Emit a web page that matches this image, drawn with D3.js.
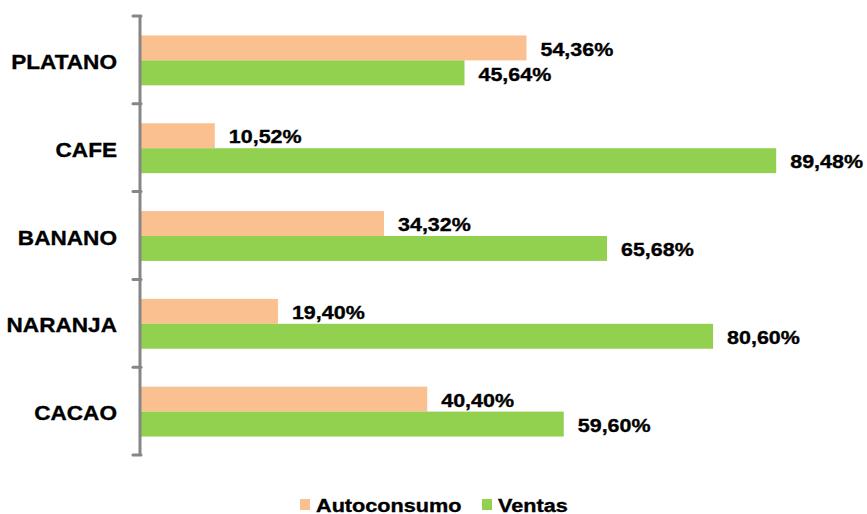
<!DOCTYPE html>
<html>
<head>
<meta charset="utf-8">
<script src="https://cdn.jsdelivr.net/npm/d3@7"></script>
<style>
  body { margin: 0; background: #fff; }
  text { font-family: "Liberation Sans", Arial, sans-serif; font-weight: bold; fill: #000; stroke: #000; stroke-width: 0.35px; }
</style>
</head>
<body>
<div id="wrapper"></div>
<script>
const categories = ["PLATANO", "CAFE", "BANANO", "NARANJA", "CACAO"]
const seriesNames = ["Autoconsumo", "Ventas"]
const autoconsumo = [54.36, 10.52, 34.32, 19.40, 40.40]
const ventas = [45.64, 89.48, 65.68, 80.60, 59.60]
const colors = ["#FAC090", "#92D050"]

const fmt = v => v.toFixed(2).replace(".", ",") + "%"

const dimensions = { width: 867, height: 514 }

const data = categories.map((c, i) => ({
  category: c,
  values: [
    { series: seriesNames[0], value: autoconsumo[i] },
    { series: seriesNames[1], value: ventas[i] },
  ]
}))

const svg = d3.select("#wrapper").append("svg")
  .attr("width", dimensions.width)
  .attr("height", dimensions.height)

// scales
const x = d3.scaleLinear().domain([0, 100]).range([140, 851])
const y = d3.scaleBand().domain(categories).range([16, 455]).padding(0)
const ySub = d3.scaleBand().domain(seriesNames).range([0, y.bandwidth()])
  .paddingInner(0).paddingOuter(0.76)
const color = d3.scaleOrdinal().domain(seriesNames).range(colors)

// bars
const groups = svg.append("g").selectAll("g")
  .data(data)
  .join("g")
    .attr("transform", d => `translate(0,${y(d.category) + 0.5})`)

groups.selectAll("rect")
  .data(d => d.values)
  .join("rect")
    .attr("x", x(0))
    .attr("y", d => ySub(d.series))
    .attr("width", d => x(d.value) - x(0))
    .attr("height", ySub.bandwidth())
    .attr("fill", d => color(d.series))

// value labels
groups.selectAll("text")
  .data(d => d.values)
  .join("text")
    .attr("transform", d => `translate(${x(d.value) + 14},${ySub(d.series) + ySub.bandwidth() / 2 + 1}) scale(1.13,1)`)
    .attr("dy", "0.35em")
    .style("font-size", "19px")
    .text(d => fmt(d.value))

// axis: vertical line with ticks at band boundaries
const axis = svg.append("g")
const tickYs = categories.map(c => y(c)).concat([y.range()[1]])
axis.append("line")
  .attr("x1", 140).attr("x2", 140)
  .attr("y1", y.range()[0]).attr("y2", y.range()[1])
  .attr("stroke", "#868686").attr("stroke-width", 3)
axis.selectAll(".tick")
  .data(tickYs)
  .join("line")
    .attr("class", "tick")
    .attr("x1", 133).attr("x2", 141)
    .attr("y1", d => d).attr("y2", d => d)
    .attr("stroke", "#868686").attr("stroke-width", 3)
    .attr("stroke-linecap", "round")

// category labels
svg.append("g").selectAll("text")
  .data(categories)
  .join("text")
    .attr("transform", d => `translate(117,${y(d) + y.bandwidth() / 2 + 2}) scale(1.13,1)`)
    .attr("text-anchor", "end")
    .attr("dy", "0.35em")
    .style("font-size", "20px")
    .text(d => d)

// legend
const legendX = [300, 482]
const legend = svg.append("g").selectAll("g")
  .data(seriesNames)
  .join("g")
    .attr("transform", (d, i) => `translate(${legendX[i]},505)`)
legend.append("rect")
  .attr("x", 0).attr("y", -6)
  .attr("width", 10).attr("height", 11)
  .attr("fill", d => color(d))
legend.append("text")
  .attr("transform", "translate(16,0) scale(1.14,1)")
  .attr("dy", "0.35em")
  .style("font-size", "19px")
  .text(d => d)
</script>
</body>
</html>
